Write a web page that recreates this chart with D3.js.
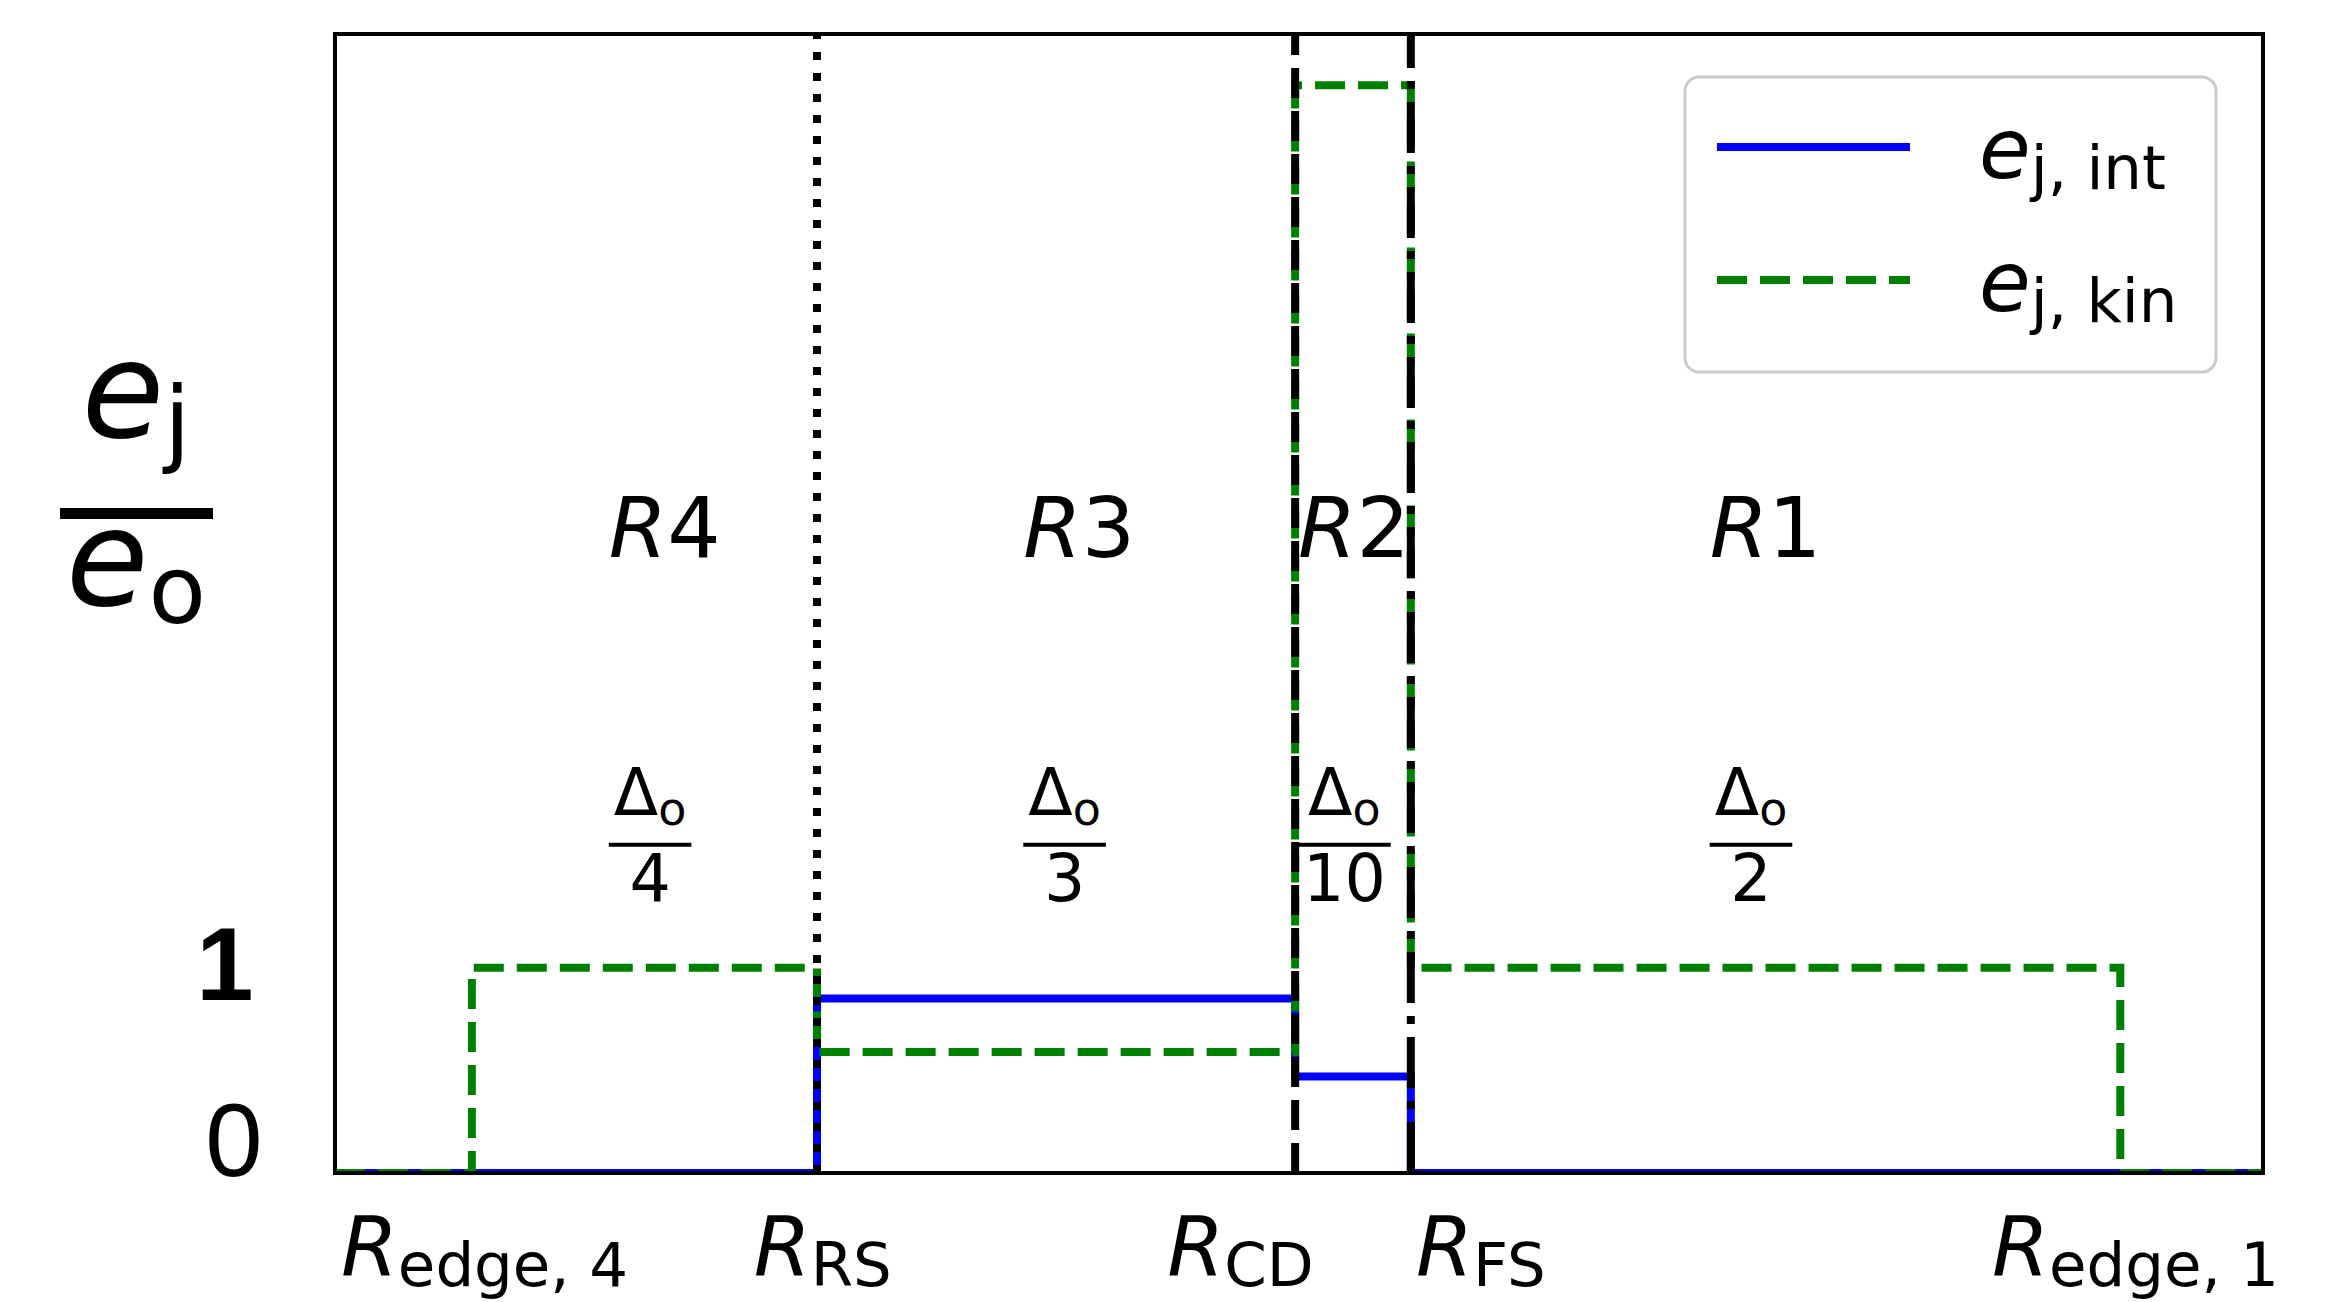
<!DOCTYPE html>
<html>
<head>
<meta charset="utf-8">
<script src="https://cdn.jsdelivr.net/npm/d3@7"></script>
<style>
  body { margin: 0; background: #ffffff; }
  text { font-family: "DejaVu Sans", sans-serif; fill: #000; }
</style>
</head>
<body>
<script>
//==============================================================//
//  DATA
//==============================================================//

    // x positions (arbitrary radial units): x_min, R_edge,4, R_RS, R_CD, R_FS, R_edge,1, x_max
    var boundaries = [0, 7.1, 25.0, 49.8, 55.8, 92.6, 100];

    // e_j / e_o on each interval between the boundaries
    var eIntValues = [0, 0, 0.85, 0.47, 0, 0];
    var eKinValues = [0, 1, 0.59, 5.3, 1, 0];

    // region annotations
    var regionNames = ["4", "3", "2", "1"];
    var regionX     = [14.2, 35.7, 49.95, 71.3];
    var widthDenoms = ["4", "3", "10", "2"];
    var regionLabelY = 3.0, widthLabelY = 1.6;

    // tick labels
    var xTickPos  = [7.75, 25.3, 46.97, 59.43, 93.39];
    var xTickSubs = ["edge, 4", "RS", "CD", "FS", "edge, 1"];
    var yTicks    = [0, 1];
    var yMax      = 5.55;

    var legendNames = ["j, int", "j, kin"];

//==============================================================//
//  SETUP
//==============================================================//

    var margin = {left: 335, right: 72, top: 34, bottom: 129},
        W = 2335, H = 1302,
        width = W - margin.left - margin.right,
        height = H - margin.top - margin.bottom;

    var root = d3.select("body").append("svg")
        .attr("width", W)
        .attr("height", H);

    root.append("rect").attr("width", W).attr("height", H).attr("fill", "#fff");

    var svg = root.append("g")
        .attr("transform", "translate(" + margin.left + "," + margin.top + ")");

    var x = d3.scaleLinear().domain([boundaries[0], boundaries[boundaries.length - 1]]).range([0, width]);
    var y = d3.scaleLinear().domain([0, yMax]).range([height, 0]);

    svg.append("clipPath").attr("id", "plotclip")
        .append("rect").attr("width", width).attr("height", height);

    // step points: value i holds from boundaries[i] to boundaries[i+1]
    function stepPoints(vals) {
        return boundaries.map(function(b, i) { return [b, vals[Math.min(i, vals.length - 1)]]; });
    }

    var line = d3.line()
        .x(function(d) { return x(d[0]); })
        .y(function(d) { return y(d[1]); })
        .curve(d3.curveStepAfter);

//==============================================================//
//  LINES
//==============================================================//

    var plot = svg.append("g").attr("clip-path", "url(#plotclip)");

    plot.append("path")
        .attr("d", line(stepPoints(eIntValues)))
        .attr("fill", "none")
        .attr("stroke", "#0000ff")
        .attr("stroke-width", 8);

    plot.append("path")
        .attr("d", line(stepPoints(eKinValues)))
        .attr("fill", "none")
        .attr("stroke", "#008000")
        .attr("stroke-width", 8)
        .attr("stroke-dasharray", "30 13");

    // shock / contact discontinuity markers: RS dotted, CD dashed, FS dash-dot
    var dividers = [
        {at: boundaries[2], dash: "8 13"},
        {at: boundaries[3], dash: "30 13"},
        {at: boundaries[4], dash: "51 13 8 13"}
    ];

    plot.selectAll(".divider")
        .data(dividers)
        .join("line")
            .attr("class", "divider")
            .attr("x1", function(d) { return x(d.at); })
            .attr("x2", function(d) { return x(d.at); })
            .attr("y1", y(0))
            .attr("y2", y(yMax))
            .attr("stroke", "#000")
            .attr("stroke-width", 8)
            .attr("stroke-dasharray", function(d) { return d.dash; });

    // axes box
    svg.append("rect")
        .attr("width", width)
        .attr("height", height)
        .attr("fill", "none")
        .attr("stroke", "#000")
        .attr("stroke-width", 4);

//==============================================================//
//  TICK LABELS
//==============================================================//

    var xt = svg.selectAll(".xtick")
        .data(xTickPos)
        .join("text")
            .attr("class", "xtick")
            .attr("x", function(d) { return x(d); })
            .attr("y", height + 102)
            .attr("text-anchor", "middle");
    xt.append("tspan")
        .attr("font-style", "italic")
        .attr("font-size", 82)
        .text("R");
    xt.append("tspan")
        .attr("font-size", 61)
        .attr("dy", 11)
        .text(function(d, i) { return xTickSubs[i]; });

    svg.selectAll(".ytick")
        .data(yTicks)
        .join("text")
            .attr("class", "ytick")
            .attr("x", function(d) { return d === 0 ? -101 : -110; })
            .attr("y", function(d) { return d === 0 ? y(d) + 3 : y(d) + 32; })
            .attr("text-anchor", "middle")
            .style("font-family", "'Liberation Sans', Arial, sans-serif")
            .attr("font-size", 103)
            .attr("font-weight", function(d) { return d === 1 ? "bold" : "normal"; })
            .text(function(d) { return d; });

    // y label  e_j / e_o
    var ylab = root.append("g").attr("transform", "translate(136,0)");
    var num = ylab.append("text").attr("y", 437).attr("text-anchor", "middle");
    num.append("tspan").attr("font-style", "italic").attr("font-size", 134).text("e");
    num.append("tspan").attr("font-size", 94).attr("dy", 17).text("j");
    ylab.append("line")
        .attr("x1", -76).attr("x2", 77)
        .attr("y1", 513.5).attr("y2", 513.5)
        .attr("stroke", "#000").attr("stroke-width", 11);
    var den = ylab.append("text").attr("y", 605).attr("text-anchor", "middle");
    den.append("tspan").attr("font-style", "italic").attr("font-size", 134).text("e");
    den.append("tspan").attr("font-size", 94).attr("dy", 18).text("o");

//==============================================================//
//  REGION ANNOTATIONS
//==============================================================//

    var rl = svg.selectAll(".region")
        .data(regionNames)
        .join("text")
            .attr("class", "region")
            .attr("x", function(d, i) { return x(regionX[i]); })
            .attr("y", y(regionLabelY))
            .attr("font-size", 84);
    rl.append("tspan").attr("font-style", "italic").text("R");
    rl.append("tspan").text(function(d) { return d; });

    // shell widths  Δo / n
    svg.selectAll(".frac")
        .data(widthDenoms)
        .join("g")
            .attr("class", "frac")
            .attr("transform", function(d, i) { return "translate(" + x(regionX[i]) + "," + y(widthLabelY) + ")"; })
            .each(function(d) {
                var g = d3.select(this);
                var n = g.append("text").attr("y", -30).attr("text-anchor", "middle");
                n.append("tspan").attr("font-size", 65).text("\u0394");
                n.append("tspan").attr("font-size", 46).attr("dy", 10).text("o");
                var dn = g.append("text").attr("y", 56).attr("text-anchor", "middle")
                    .attr("font-size", 65).text(d);
                var w = Math.max(n.node().getComputedTextLength(), dn.node().getComputedTextLength()) + 10;
                n.attr("x", w / 2);
                dn.attr("x", w / 2);
                g.append("line")
                    .attr("x1", 0).attr("x2", w)
                    .attr("y1", 0).attr("y2", 0)
                    .attr("stroke", "#000").attr("stroke-width", 4);
            });

//==============================================================//
//  LEGEND
//==============================================================//

    var legend = root.append("g");
    legend.append("rect")
        .attr("x", 1685).attr("y", 77)
        .attr("width", 531).attr("height", 295)
        .attr("rx", 14)
        .attr("fill", "#fff")
        .attr("fill-opacity", 0.8)
        .attr("stroke", "#cccccc")
        .attr("stroke-width", 3);

    var items = legend.selectAll(".item")
        .data(legendNames)
        .join("g")
            .attr("class", "item")
            .attr("transform", function(d, i) { return "translate(0," + (i * 133) + ")"; });

    items.append("line")
        .attr("x1", 1717).attr("x2", 1910)
        .attr("y1", 147).attr("y2", 147)
        .attr("stroke", function(d, i) { return i === 0 ? "#0000ff" : "#008000"; })
        .attr("stroke-width", 8)
        .attr("stroke-dasharray", function(d, i) { return i === 0 ? null : "30 13"; });

    var lt = items.append("text")
        .attr("x", 1979)
        .attr("y", 178);
    lt.append("tspan").attr("font-style", "italic").attr("font-size", 84).text("e");
    lt.append("tspan").attr("font-size", 61).attr("dy", 11).text(function(d) { return d; });
</script>
</body>
</html>
